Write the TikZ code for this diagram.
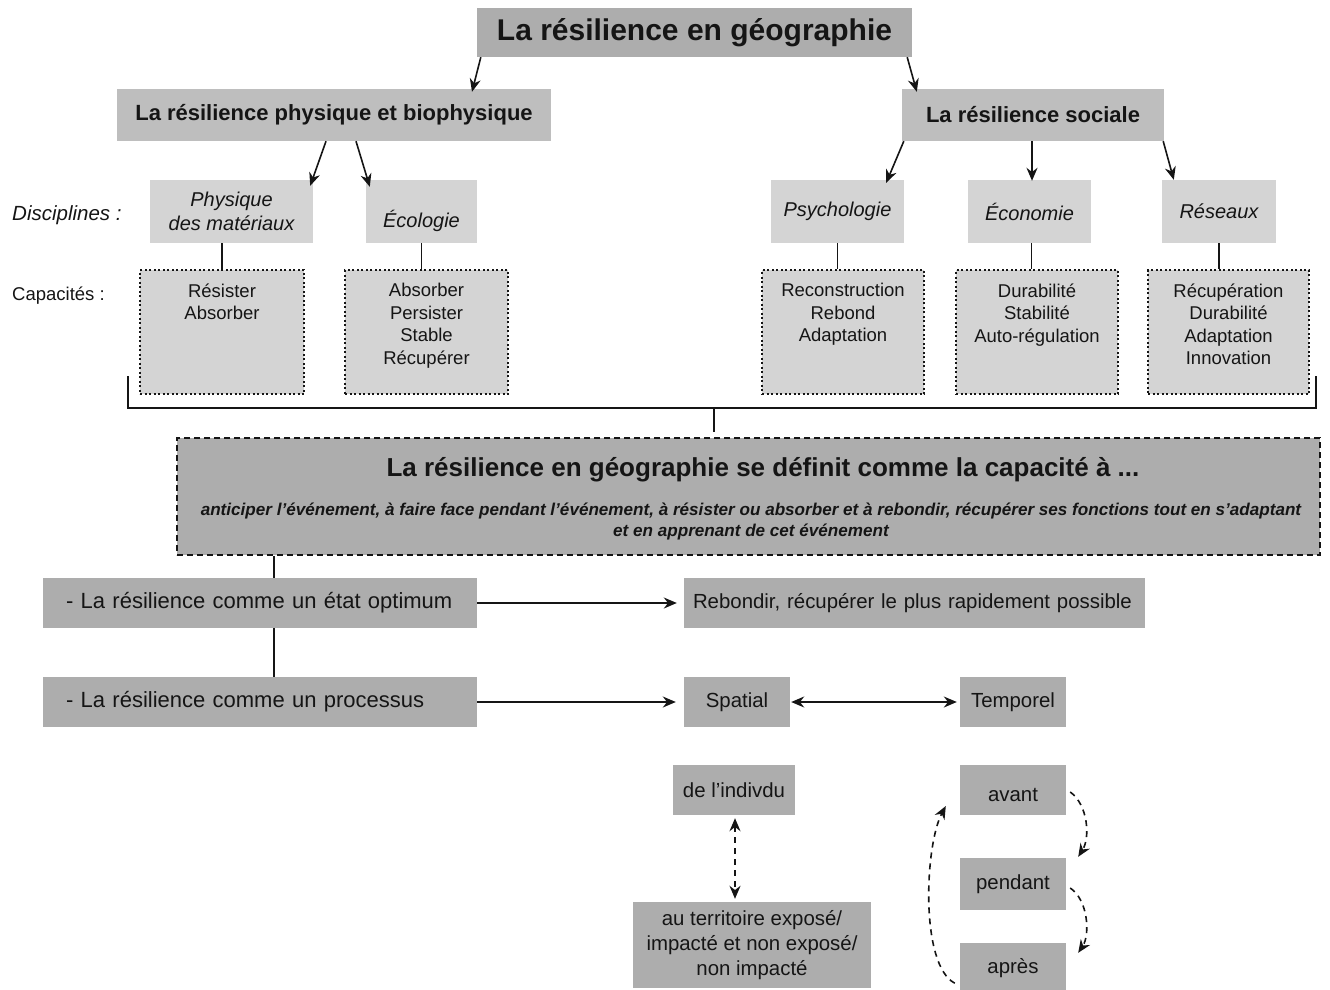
\documentclass[tikz,border=0pt]{standalone}
\usepackage{fontspec}
\setmainfont{Liberation Sans}
\usepackage{tikz}
\usetikzlibrary{arrows.meta, positioning, calc}
\definecolor{darkfill}{HTML}{ADADAD}
\definecolor{midfill}{HTML}{BEBEBE}
\definecolor{lightfill}{HTML}{D4D4D4}
\definecolor{ink}{HTML}{151515}
\tikzset{
  titlebox/.style={
    rectangle, fill=darkfill, inner sep=0pt,
    minimum width=435pt, minimum height=49pt,
    text=ink, font=\fontsize{30}{36}\selectfont\bfseries,
  },
  branch/.style={
    rectangle, fill=midfill, inner sep=0pt,
    minimum height=52pt,
    text=ink, font=\fontsize{22}{26}\selectfont\bfseries,
  },
  discipline/.style={
    rectangle, fill=lightfill, inner sep=0pt,
    minimum height=63pt, align=center,
    text=ink, font=\fontsize{20}{24}\selectfont\itshape,
  },
  capacity/.style={
    rectangle, fill=lightfill, draw=ink, line width=1.5pt,
    dash pattern=on 2pt off 2.5pt,
    minimum height=124pt,
  },
  captext/.style={align=center, inner sep=0pt, text=ink, font=\fontsize{18.5}{22.5}\selectfont},
  sidelabel/.style={anchor=west, inner sep=0pt, text=ink},
  defbox/.style={
    rectangle, fill=darkfill, draw=ink, line width=1.2pt,
    dash pattern=on 6pt off 4pt,
    minimum width=1143pt, minimum height=117pt,
  },
  rowbox/.style={
    rectangle, fill=darkfill, inner sep=0pt,
    minimum height=50pt, align=center,
    text=ink, font=\fontsize{20.4}{25}\selectfont,
  },
  leftrow/.style={
    rowbox, inner xsep=23pt, text width=388pt, align=left,
    font=\fontsize{22}{26}\selectfont,
  },
  link/.style={line width=1.6pt, color=ink},
  arrow/.style={-{Stealth[length=13pt, width=11pt]}, line width=1.6pt, color=ink},
  twoway/.style={{Stealth[length=13pt, width=11pt]}-{Stealth[length=13pt, width=11pt]}, line width=1.6pt, color=ink},
  dotarrow/.style={arrow, dash pattern=on 6pt off 5pt},
  dottwoway/.style={twoway, dash pattern=on 6pt off 5pt},
}

\begin{document}
\begin{tikzpicture}[x=1pt, y=-1pt]
  \useasboundingbox (0,0) rectangle (1330,990);

  % head and branches
  \node[titlebox] (title) at (694.5,32.5) {La résilience en géographie};
  \node[branch, minimum width=434pt] (phys) at (334,115) {La résilience physique et biophysique};
  \node[branch, minimum width=262pt] (soc) at (1033,115) {La résilience sociale};

  % disciplines
  \node[sidelabel, font=\fontsize{20.5}{24}\selectfont\itshape] (disclabel) at (12,215) {Disciplines :};
  \node[discipline, minimum width=163pt] (physmat) at (231.5,211.5) {Physique\\des matériaux};
  \node[discipline, minimum width=111pt] (ecol) at (421.5,211.5) {\raisebox{-16pt}[0pt][0pt]{Écologie}};
  \node[discipline, minimum width=133pt] (psych) at (837.5,211.5) {Psychologie};
  \node[discipline, minimum width=123pt] (econ) at (1029.5,211.5) {Économie};
  \node[discipline, minimum width=114pt] (reseaux) at (1219,211.5) {Réseaux};

  % capacities
  \node[sidelabel, font=\fontsize{18.5}{22}\selectfont] (caplabel) at (12,296) {Capacités :};
  \node[capacity, minimum width=164pt] (capA) at (222,332) {};
  \node[capacity, minimum width=163pt] (capB) at (426.5,332) {};
  \node[capacity, minimum width=162pt] (capC) at (843,332) {};
  \node[capacity, minimum width=162pt] (capD) at (1037,332) {};
  \node[capacity, minimum width=161pt] (capE) at (1228.5,332) {};
  \node[captext, below=14pt of capA.north] (txtA) {Résister\\Absorber};
  \node[captext, below=14pt of capB.north] (txtB) {Absorber\\Persister\\Stable\\Récupérer};
  \node[captext, below=14pt of capC.north] (txtC) {Reconstruction\\Rebond\\Adaptation};
  \node[captext, below=14pt of capD.north] (txtD) {Durabilité\\Stabilité\\Auto-régulation};
  \node[captext, below=14pt of capE.north] (txtE) {Récupération\\Durabilité\\Adaptation\\Innovation};

  % definition
  \node[defbox] (def) at (748.5,496.5) {};
  \node[inner sep=0pt, text=ink, font=\fontsize{26}{31}\selectfont\bfseries] (defhead) at (763,470)
    {La résilience en géographie se définit comme la capacité à ...};
  \node[inner sep=0pt, align=center, text=ink, font=\fontsize{17.1}{21}\selectfont\bfseries\itshape] (deftext) at (751,521.5)
    {anticiper l’événement, à faire face pendant l’événement, à résister ou absorber et à rebondir, récupérer ses fonctions tout en s’adaptant\\
     et en apprenant de cet événement};

  % approaches
  \node[leftrow] (optimum) at (260,603) {- La résilience comme un état optimum};
  \node[leftrow] (process) at (260,702) {- La résilience comme un processus};
  \node[rowbox, inner xsep=9pt, text width=443pt, align=left] (rebond) at (914.5,603)
    {Rebondir, récupérer le plus rapidement possible};
  \node[rowbox, minimum width=106pt] (spatial) at (737,702) {Spatial};
  \node[rowbox, minimum width=106pt] (temporel) at (1013,702) {Temporel};
  \node[rowbox, minimum width=122pt] (indiv) at (734,790) {de l’indivdu};
  \node[rowbox, minimum width=238pt, minimum height=86pt] (territ) at (752,945)
    {au territoire exposé/\\impacté et non exposé/\\non impacté};
  \node[rowbox, minimum width=106pt] (avant) at (1013,790) {\raisebox{-11pt}[0pt][0pt]{avant}};
  \node[rowbox, minimum width=106pt, minimum height=52pt] (pendant) at (1013,884) {pendant};
  \node[rowbox, minimum width=106pt] (apres) at (1013,968) {après};

  % bracket
  \coordinate (brL) at (128,376);
  \coordinate (brR) at (1316,376);
  \coordinate (brM) at (714,408);
  \draw[line width=2.8pt, color=ink] (brL) |- (brR |- brM) -- (brR);
  \draw[line width=2.8pt, color=ink] (brM) -- ++(0,24);

  % arrows of the tree
  \draw[arrow] ($(title.south west)+(4,0)$) -- ($(phys.north)+(138,3)$);
  \draw[arrow] ($(title.south east)+(-5,0)$) -- ($(soc.north west)+(15,3)$);
  \draw[arrow] ($(phys.south)+(-8,0)$) -- ($(physmat.north east)+(-3,6)$);
  \draw[arrow] ($(phys.south)+(22,0)$) -- ($(ecol.north west)+(4,7)$);
  \draw[arrow] ($(soc.south west)+(2,0)$) -- ($(psych.north east)+(-18,3)$);
  \draw[arrow] ($(soc.south)+(-1,0)$) -- ($(soc.south |- econ.north)+(-1,1)$);
  \draw[arrow] ($(soc.south east)+(-1,0)$) -- ($(reseaux.north west)+(12,0)$);

  \draw[link] (capA.north) -- (capA.north |- physmat.south);
  \draw[link] (ecol.south) -- (ecol.south |- capB.north);
  \draw[link] (psych.south) -- (psych.south |- capC.north);
  \draw[link] ($(econ.south)+(2,0)$) -- ($(econ.south |- capD.north)+(2,0)$);
  \draw[link] (reseaux.south) -- (reseaux.south |- capE.north);

  % spine
  \coordinate (spine) at (274,0);
  \draw[link] (def.south -| spine) -- (optimum.north -| spine);
  \draw[link] (optimum.south -| spine) -- (process.north -| spine);

  \draw[arrow, shorten >=7pt] (optimum.east) -- (rebond.west);
  \draw[arrow, shorten >=8pt] (process.east) -- (spatial.west);
  \draw[twoway, shorten <=1pt, shorten >=3pt] (spatial.east) -- (temporel.west);
  \draw[dottwoway, shorten <=3pt, shorten >=3pt] ($(indiv.south)+(1,0)$) -- ($(indiv.south |- territ.north)+(1,0)$);

  % time loop
  \draw[dotarrow] ($(avant.east)+(4,2)$) .. controls +(18,13) and +(12,-19) .. ($(pendant.north east)+(12,-1)$);
  \draw[dotarrow] ($(pendant.east)+(4,4)$) .. controls +(18,12) and +(12,-18) .. ($(apres.north east)+(12,10)$);
  \draw[dotarrow] ($(apres.south west)+(-5,-10)$) .. controls +(-35,-18) and +(-21,39) .. ($(avant.west)+(-14,16)$);

\end{tikzpicture}
\end{document}
